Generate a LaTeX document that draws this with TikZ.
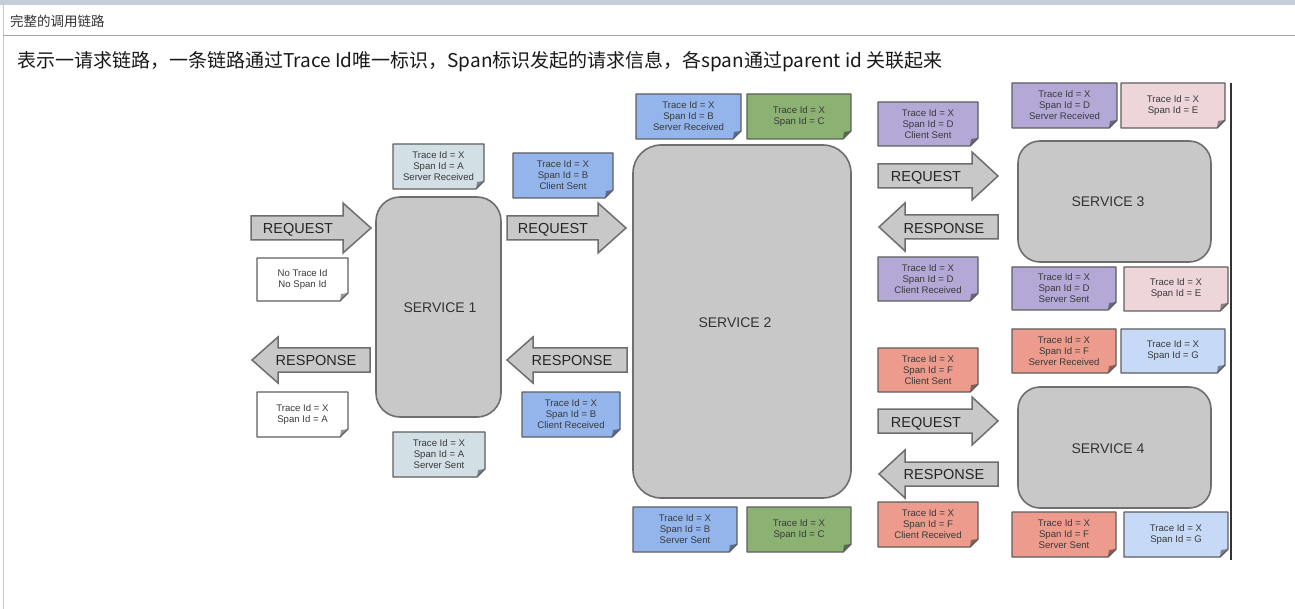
\documentclass[tikz,border=0pt]{standalone}
\usepackage{fontspec}
\setmainfont{Liberation Sans}
\newfontfamily\cjk{Noto Sans CJK SC}
\definecolor{svcfill}{HTML}{C8C8C8}
\definecolor{svcdraw}{HTML}{6E6E6E}
\definecolor{notedraw}{HTML}{5E5E5E}
\definecolor{ntxt}{HTML}{3A3A3A}
\definecolor{chrome}{HTML}{C5CDD8}
\definecolor{cA}{HTML}{D2DFE4}
\definecolor{cB}{HTML}{93B5EC}
\definecolor{cC}{HTML}{8CB273}
\definecolor{cD}{HTML}{B4A8D7}
\definecolor{cE}{HTML}{EDD5DA}
\definecolor{cF}{HTML}{EC9B8C}
\definecolor{cG}{HTML}{C6D9F6}
\definecolor{cW}{HTML}{FFFFFF}
\tikzset{
  svcbox/.style={fill=svcfill,draw=svcdraw,line width=1.6pt},
  svctext/.style={font=\fontsize{14}{16}\selectfont,text=black!80,text height=10pt,text depth=0pt,inner sep=0pt},
  arrowbody/.style={fill=svcfill,draw=svcdraw,line width=1.5pt,line join=miter},
  arrowtext/.style={font=\fontsize{14.5}{16}\selectfont,text=black!85,text height=10.4pt,text depth=0pt,inner sep=0pt},
  notetext/.style={font=\fontsize{9.6}{11}\selectfont,text=ntxt,align=center,inner sep=0pt},
  noteframe/.style={draw=notedraw,line width=1.4pt,line join=round},
}
% note: name, x1, y1, x2, y2, colour, text
\newcommand\mynote[7]{%
  \fill[#6] (#2,#3) -- (#4,#3) -- (#4,#5-8) -- (#4-8,#5) -- (#2,#5) -- cycle;
  \fill[#6!60!black] (#4,#5-8) -- (#4-8,#5) -- (#4-7,#5-7) -- cycle;
  \draw[noteframe] (#2,#3) -- (#4,#3) -- (#4,#5-8) -- (#4-8,#5) -- (#2,#5) -- cycle;
  \node[notetext] (#1) at ({(#2+#4)/2},{(#3+#5)/2}) {#7};
}
% right arrow: xl, xbase, xtip, yc, body half, head half
\newcommand\myrarrow[6]{%
  \draw[arrowbody] (#1,#4-#5) -- (#2,#4-#5) -- (#2,#4-#6) -- (#3,#4) -- (#2,#4+#6) -- (#2,#4+#5) -- (#1,#4+#5) -- cycle;
}
% left arrow: xtip, xbase, xr, yc, body half, head half
\newcommand\mylarrow[6]{%
  \draw[arrowbody] (#3,#4-#5) -- (#2,#4-#5) -- (#2,#4-#6) -- (#1,#4) -- (#2,#4+#6) -- (#2,#4+#5) -- (#3,#4+#5) -- cycle;
}
\begin{document}
\begin{tikzpicture}[x=1pt,y=-1pt]
\useasboundingbox (0,0) rectangle (1295,609);
\fill[white] (0,0) rectangle (1295,609);
% window chrome
\fill[chrome] (0,0) rectangle (1295,5);
\draw[black!22,line width=0.8pt] (3,5) -- (3,609);
\draw[black!35,line width=1pt] (3,36) -- (1295,36);
\node[anchor=west,inner sep=0pt,font=\cjk\fontsize{13.5}{15}\selectfont,text=black!80] (hdr) at (10,21) {完整的调用链路};
\node[anchor=west,inner sep=0pt,font=\cjk\fontsize{19}{21}\selectfont,text=black!90] (desc) at (17,62) {表示一请求链路，一条链路通过Trace Id唯一标识，Span标识发起的请求信息，各span通过parent id 关联起来};
% right frame line
\draw[black!80,line width=1.5pt] (1231,83) -- (1231,560);

% services
\draw[svcbox,rounded corners=24pt] (376,197) rectangle (501,417);
\node[svctext] (s1) at (440,308) {SERVICE 1};
\draw[svcbox,rounded corners=28pt] (633,145) rectangle (851,498);
\node[svctext] (s2) at (735,322) {SERVICE 2};
\draw[svcbox,rounded corners=22pt] (1018,141) rectangle (1211,262);
\node[svctext] (s3) at (1108,202) {SERVICE 3};
\draw[svcbox,rounded corners=22pt] (1018,387) rectangle (1211,508);
\node[svctext] (s4) at (1108,448) {SERVICE 4};

% arrows
\myrarrow{251}{343}{371}{228}{12}{25}
\node[arrowtext] (rq1) at (298,228) {REQUEST};
\myrarrow{507}{598}{626}{228}{12}{25}
\node[arrowtext] (rq2) at (553,228) {REQUEST};
\mylarrow{252}{278}{370}{360}{12}{23}
\node[arrowtext] (rs1) at (316,360) {RESPONSE};
\mylarrow{507}{533}{627}{360}{12}{23}
\node[arrowtext] (rs2) at (572,360) {RESPONSE};
\myrarrow{878}{972}{998}{176}{12}{24}
\node[arrowtext] (rq3) at (926,176) {REQUEST};
\mylarrow{879}{905}{998}{227}{12}{24}
\node[arrowtext] (rs3) at (944,228) {RESPONSE};
\myrarrow{878}{972}{998}{421}{12}{24}
\node[arrowtext] (rq4) at (926,422) {REQUEST};
\mylarrow{879}{905}{998}{474}{12}{24}
\node[arrowtext] (rs4) at (944,474) {RESPONSE};

% notes: service 1
\mynote{nA1}{393}{144}{484}{189}{cA}{Trace Id = X\\Span Id = A\\Server Received}
\mynote{n0}{257}{258}{348}{301}{cW}{No Trace Id\\No Span Id}
\mynote{nA0}{257}{392}{348}{437}{cW}{Trace Id = X\\Span Id = A}
\mynote{nA2}{393}{432}{485}{477}{cA}{Trace Id = X\\Span Id = A\\Server Sent}
\mynote{nB1}{513}{153}{613}{198}{cB}{Trace Id = X\\Span Id = B\\Client Sent}
\mynote{nB4}{522}{392}{620}{437}{cB}{Trace Id = X\\Span Id = B\\Client Received}
% service 2
\mynote{nB2}{636}{94}{741}{139}{cB}{Trace Id = X\\Span Id = B\\Server Received}
\mynote{nC1}{747}{94}{851}{139}{cC}{Trace Id = X\\Span Id = C}
\mynote{nB3}{633}{507}{737}{552}{cB}{Trace Id = X\\Span Id = B\\Server Sent}
\mynote{nC2}{747}{507}{851}{552}{cC}{Trace Id = X\\Span Id = C}
% service 3
\mynote{nD1}{878}{102}{978}{146}{cD}{Trace Id = X\\Span Id = D\\Client Sent}
\mynote{nD2}{1012}{83}{1117}{128}{cD}{Trace Id = X\\Span Id = D\\Server Received}
\mynote{nE1}{1121}{83}{1225}{128}{cE}{Trace Id = X\\Span Id = E}
\mynote{nD4}{878}{257}{978}{301}{cD}{Trace Id = X\\Span Id = D\\Client Received}
\mynote{nD3}{1012}{267}{1116}{310}{cD}{Trace Id = X\\Span Id = D\\Server Sent}
\mynote{nE2}{1124}{267}{1228}{311}{cE}{Trace Id = X\\Span Id = E}
% service 4
\mynote{nF2}{1012}{329}{1116}{373}{cF}{Trace Id = X\\Span Id = F\\Server Received}
\mynote{nG1}{1121}{329}{1225}{373}{cG}{Trace Id = X\\Span Id = G}
\mynote{nF1}{878}{348}{978}{392}{cF}{Trace Id = X\\Span Id = F\\Client Sent}
\mynote{nF4}{878}{502}{978}{547}{cF}{Trace Id = X\\Span Id = F\\Client Received}
\mynote{nF3}{1012}{512}{1116}{557}{cF}{Trace Id = X\\Span Id = F\\Server Sent}
\mynote{nG2}{1124}{512}{1228}{557}{cG}{Trace Id = X\\Span Id = G}
\end{tikzpicture}
\end{document}
